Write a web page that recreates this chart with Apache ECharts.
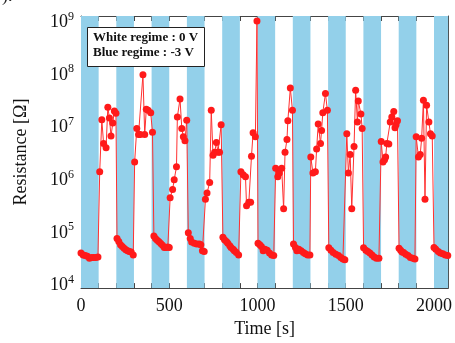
<!DOCTYPE html>
<html>
<head>
<meta charset="utf-8">
<script src="https://cdn.jsdelivr.net/npm/echarts@6/dist/echarts.min.js"></script>
<style>
  html, body { margin: 0; padding: 0; background: #fff; }
  #chart { width: 455px; height: 343px; }
</style>
</head>
<body>
<div id="chart"></div>
<script>
// time stamps [s]
const timeS = [
  0, 12, 24, 36, 48, 60, 72, 84, 96,
  106, 118, 128, 142, 152, 161, 170, 180, 189, 198,
  204, 214, 224, 234, 244, 254, 264, 274, 284, 296,
  304, 316, 326, 336, 351, 361, 370, 380, 395, 405,
  413, 422, 432, 442, 452, 462, 472, 482, 492, 500,
  505, 519, 528, 541, 546, 561, 571, 580, 589, 599,
  608, 619, 627, 642, 656, 670, 679, 688, 698,
  705, 714, 729, 738, 748, 757, 767, 776, 785, 794,
  804, 813, 824, 832, 843, 850, 862, 869, 880, 893,
  906, 919, 932, 938, 951, 961, 966, 975, 988, 997,
  1003, 1013, 1022, 1032, 1042, 1055, 1068, 1080, 1092,
  1103, 1115, 1124, 1137, 1148, 1156, 1167, 1172, 1186, 1198,
  1204, 1215, 1223, 1234, 1247, 1260, 1271, 1284, 1297,
  1302, 1314, 1328, 1335, 1344, 1357, 1363, 1370, 1385, 1396,
  1404, 1416, 1429, 1444, 1459, 1472, 1484, 1495,
  1506, 1515, 1525, 1534, 1547, 1556, 1566, 1571, 1586, 1593,
  1601, 1614, 1625, 1637, 1649, 1661, 1674, 1688,
  1701, 1711, 1720, 1726, 1733, 1744, 1752, 1761, 1772, 1779, 1785, 1793,
  1802, 1811, 1819, 1828, 1840, 1853, 1866, 1880, 1892,
  1899, 1912, 1922, 1930, 1940, 1949, 1958, 1971, 1980, 1990,
  2000, 2010, 2024, 2036, 2050, 2064, 2078
];

// resistance [ohm]
const resistanceOhm = [
  3.9e4, 3.6e4, 3.5e4, 3.4e4, 3.1e4, 3.2e4, 3.2e4, 3.2e4, 3.3e4,
  1.36e6, 1.33e7, 4.7e6, 3.9e6, 2.3e7, 1.43e7, 6.5e6, 1.15e7, 1.95e7, 1.76e7,
  7.4e4, 6.5e4, 5.6e4, 5.2e4, 4.8e4, 4.5e4, 4.3e4, 4.2e4, 4.1e4, 3.6e4,
  2.1e6, 9.1e6, 7.0e6, 7.0e6, 9.5e7, 7.0e6, 2.1e7, 2.0e7, 1.8e7, 7.7e6,
  8.2e4, 7.4e4, 6.8e4, 6.4e4, 5.9e4, 5.5e4, 5.0e4, 5.0e4, 5.1e4, 5.0e4,
  4.4e5, 6.3e5, 9.6e5, 1.7e6, 1.5e7, 3.3e7, 9.1e6, 6.3e6, 5.3e6, 1.3e7,
  9.5e4, 7.4e4, 6.3e4, 6.0e4, 5.8e4, 5.8e4, 5.6e4, 4.3e4, 4.2e4,
  4.1e5, 5.4e5, 8.5e5, 2.0e7, 2.8e6, 3.2e6, 4.9e6, 3.2e6, 3.2e6, 1.07e7,
  7.8e4, 7.0e4, 6.5e4, 6.0e4, 5.4e4, 5.0e4, 4.6e4, 4.3e4, 4.0e4, 3.6e4,
  1.36e6, 1.2e6, 1.1e6, 3.1e5, 3.6e5, 3.6e5, 2.7e6, 7.5e6, 6.3e6, 1.0e9,
  6.0e4, 5.6e4, 5.2e4, 4.3e4, 4.6e4, 4.4e4, 3.9e4, 3.6e4, 3.5e4,
  1.6e6, 1.1e6, 1.3e6, 1.6e6, 2.7e5, 3.2e6, 5.6e6, 1.27e7, 5.3e7, 2.0e7,
  5.8e4, 5.0e4, 4.3e4, 4.6e4, 4.3e4, 4.0e4, 3.8e4, 3.6e4, 3.6e4,
  2.6e6, 1.3e6, 1.36e6, 3.7e6, 1.1e7, 4.7e6, 8.3e6, 1.8e7, 4.2e7, 2.0e7,
  4.9e4, 4.4e4, 4.0e4, 3.7e4, 3.5e4, 3.2e4, 3.0e4, 2.9e4,
  7.2e6, 1.3e6, 2.9e6, 2.7e5, 4.1e6, 4.8e7, 1.2e7, 3.0e7, 1.7e7, 9.1e6,
  4.9e4, 4.4e4, 4.2e4, 3.9e4, 3.6e4, 3.3e4, 3.1e4, 3.1e4,
  5.1e6, 2.1e6, 2.3e6, 2.6e6, 4.7e6, 4.6e6, 1.2e7, 1.5e7, 1.9e7, 9.4e6, 1.07e7, 1.27e7,
  4.8e4, 4.4e4, 4.1e4, 4.0e4, 3.7e4, 3.5e4, 3.2e4, 3.1e4, 3.0e4,
  6.3e6, 2.6e6, 2.9e6, 5.9e6, 3.1e7, 4.1e5, 2.5e7, 1.2e7, 7.2e6, 6.5e6,
  5.0e4, 4.6e4, 4.2e4, 3.9e4, 3.8e4, 3.6e4, 3.5e4
];

// blue regime (-3 V) windows: start times, each 100 s long
const blueStarts = [0, 200, 400, 600, 800, 1000, 1200, 1400, 1600, 1800, 2000];
const blueLength = 100;

const xTickLabels = [0, 500, 1000, 1500, 2000];

const serif = "'Liberation Serif', 'DejaVu Serif', serif";
const frame = "#444";

const chart = echarts.init(document.getElementById("chart"));

const points = timeS.map((t, i) => [t, resistanceOhm[i]]);
const bands = blueStarts.map((s) => [{ xAxis: s }, { xAxis: s + blueLength }]);

function powLabel(v) {
  const e = Math.round(Math.log10(v));
  if (Math.abs(Math.log10(v) - e) > 1e-6) return "";
  return "{b|10}{s|" + e + "}";
}

const ySide = (pos, showLabels) => ({
  type: "log",
  logBase: 10,
  position: pos,
  min: Math.pow(10, 3.926),
  max: Math.pow(10, 9.093),
  axisLine: { show: true, onZero: false, lineStyle: { color: frame, width: 1 } },
  axisTick: { show: true, inside: true, length: 5, lineStyle: { color: frame } },
  minorTick: { show: true, splitNumber: 9, length: 3, lineStyle: { color: frame } },
  splitLine: { show: false },
  axisLabel: showLabels
    ? {
        show: true,
        margin: 7,
        showMinLabel: false,
        showMaxLabel: false,
        formatter: powLabel,
        rich: {
          b: { fontFamily: serif, fontSize: 18, color: "#111", verticalAlign: "bottom", lineHeight: 18 },
          s: { fontFamily: serif, fontSize: 12, color: "#111", verticalAlign: "top", padding: [0, 0, 9, 0] },
        },
      }
    : { show: false },
  name: showLabels ? "Resistance [Ω]" : "",
  nameLocation: "middle",
  nameGap: 51,
  nameTextStyle: { fontFamily: serif, fontSize: 18, color: "#111" },
});

const xSide = (pos, showLabels) => ({
  type: "value",
  position: pos,
  min: 0,
  max: 2080,
  interval: 100,
  axisLine: { show: true, onZero: false, lineStyle: { color: frame, width: 1 } },
  axisTick: { show: true, inside: true, length: 5, lineStyle: { color: frame } },
  splitLine: { show: false },
  axisLabel: showLabels
    ? {
        show: true,
        margin: 9,
        showMaxLabel: false,
        fontFamily: serif,
        fontSize: 18,
        color: "#111",
        formatter: (v) => (xTickLabels.includes(v) ? String(v) : ""),
      }
    : { show: false },
  name: showLabels ? "Time [s]" : "",
  nameLocation: "middle",
  nameGap: 30,
  nameTextStyle: { fontFamily: serif, fontSize: 18, color: "#111" },
});

chart.setOption({
  animation: false,
  grid: { left: 81, right: 1, top: 16, bottom: 48 },
  xAxis: [xSide("bottom", true), xSide("top", false)],
  yAxis: [ySide("left", true), ySide("right", false)],
  series: [
    {
      type: "line",
      data: [],
      silent: true,
      markArea: {
        silent: true,
        itemStyle: { color: "#93d0ea", opacity: 1 },
        data: bands,
      },
    },
    {
      type: "line",
      data: points,
      clip: true,
      symbol: "circle",
      symbolSize: 7,
      itemStyle: { color: "#ff1a1a" },
      lineStyle: { color: "#ff3030", width: 1 },
      z: 3,
    },
  ],
  graphic: [
    {
      type: "rect",
      left: 87,
      top: 27,
      shape: { width: 117, height: 39 },
      style: { fill: "#fff", stroke: "#222", lineWidth: 1 },
      z: 10,
    },
    {
      type: "text",
      left: 93,
      top: 31,
      style: { text: "White regime : 0 V", font: "bold 13px " + serif, fill: "#111" },
      z: 11,
    },
    {
      type: "text",
      left: 93,
      top: 46,
      style: { text: "Blue regime : -3 V", font: "bold 13px " + serif, fill: "#111" },
      z: 11,
    },
    {
      type: "text",
      left: 2,
      top: -13,
      style: { text: ").", font: "18px " + serif, fill: "#222" },
    },
  ],
});
</script>
</body>
</html>
